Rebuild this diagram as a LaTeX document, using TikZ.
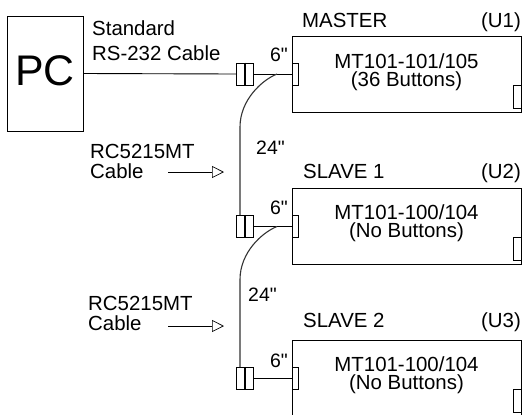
\documentclass[tikz,border=0pt]{standalone}
\usepackage{fontspec}
\setmainfont{Liberation Sans}
\newfontfamily\plainsans{Liberation Sans}
\usetikzlibrary{arrows.meta, calc, positioning}
\tikzset{
  unit/.style={
    rectangle, draw, line width=0.9pt,
    minimum width=229bp, minimum height=76bp,
    inner sep=0pt, anchor=north west,
  },
  plug/.style={
    rectangle, draw, line width=0.9pt,
    minimum width=17bp, minimum height=22bp, inner sep=0pt,
  },
  jack/.style={
    rectangle, draw, line width=0.9pt,
    minimum width=6bp, minimum height=22bp, inner sep=0pt,
  },
  port/.style={
    rectangle, draw, line width=0.9pt,
    minimum width=8bp, minimum height=23bp, inner sep=0pt,
    anchor=south east,
  },
  txt/.style={font=\fontsize{20.5}{18}\selectfont, inner sep=0pt, align=center},
  lbl/.style={font=\fontsize{20.5}{20}\selectfont, inner sep=0pt, align=left, anchor=base west},
  len/.style={font=\plainsans\fontsize{19.5}{20}\selectfont, inner sep=0pt},
  cable/.style={line width=0.9pt},
  jumper/.style={line width=1.1pt, draw=black!80},
  pointer/.style={-{Triangle[open,length=12bp,width=12bp]}, line width=0.7pt},
}
\begin{document}
\begin{tikzpicture}[x=1bp,y=-1bp]
  \clip (0,0) rectangle (525,414);
  % computer
  \node[rectangle, draw, line width=0.9pt, minimum width=76bp, minimum height=115bp,
        text depth=6bp, font=\fontsize{43}{43}\selectfont](pc) at (45,73.5){PC};
  \node[lbl, font=\fontsize{20.5}{25}\selectfont](rs) at (92,60){Standard\\RS-232 Cable};
  % units
  \node[unit](master) at (292,36){};
  \node[unit](slave1) at (292,188){};
  \node[unit](slave2) at (292,340){};
  \node[txt, anchor=base](mtxt) at (406.5,86){MT101-101/105\\(36 Buttons)};
  \node[txt, anchor=base](s1txt) at (406.5,237){MT101-100/104\\(No Buttons)};
  \node[txt, anchor=base](s2txt) at (406.5,389){MT101-100/104\\(No Buttons)};
  \node[lbl](mttl) at (302,27){MASTER};
  \node[lbl](s1ttl) at (303,178){SLAVE 1};
  \node[lbl](s2ttl) at (303,327){SLAVE 2};
  \node[txt, anchor=base east](u1) at (521,27){(U1)};
  \node[txt, anchor=base east](u2) at (521,178){(U2)};
  \node[txt, anchor=base east](u3) at (521,327){(U3)};
  \node[port](p1) at ([yshift=4bp]master.south east){};
  \node[port](p2) at ([yshift=4bp]slave1.south east){};
  \node[port](p3) at ([yshift=4bp]slave2.south east){};
  % connectors
  \node[jack](j1) at (295,74){};
  \node[jack](j2) at (295,226.5){};
  \node[jack](j3) at (295,378.5){};
  \node[plug](c1) at (245,74){};
  \node[plug](c2) at (245,226.5){};
  \node[plug](c3) at (245,378.5){};
  \draw[line width=1.6pt](c1.north)--(c1.south);
  \draw[line width=1.6pt](c2.north)--(c2.south);
  \draw[line width=1.6pt](c3.north)--(c3.south);
  % cables
  \draw[cable](pc.east)--(c1.west);
  \draw[cable](c1.east)--(j1.west);
  \draw[cable](c2.east)--(j2.west);
  \draw[cable](c3.east)--(j3.west);
  \coordinate (split1) at (277,74);
  \coordinate (split2) at (277,226.5);
  \draw[jumper](split1) .. controls (262,80) and (240,100) .. (240,127) -- ($(c2.north)+(-5,0)$);
  \draw[jumper](split2) .. controls (262,232.5) and (240,252.5) .. (240,279.5) -- ($(c3.north)+(-5,0)$);
  % lengths
  \node[len, anchor=base east](l1) at (288,61){6"};
  \node[len, anchor=base east](l2) at (288,214){6"};
  \node[len, anchor=base east](l3) at (288,367){6"};
  \node[len, anchor=base west](l4) at (256,154){24"};
  \node[len, anchor=base west](l5) at (248,301){24"};
  % cable callouts
  \node[lbl](rc1) at (90,178){RC5215MT\\Cable};
  \node[lbl](rc2) at (88,330){RC5215MT\\Cable};
  \coordinate (tip1) at (224,172);
  \coordinate (tip2) at (224,326);
  \draw[pointer]($(tip1)+(-56,0)$)--(tip1);
  \draw[pointer]($(tip2)+(-56,0)$)--(tip2);
\end{tikzpicture}
\end{document}
